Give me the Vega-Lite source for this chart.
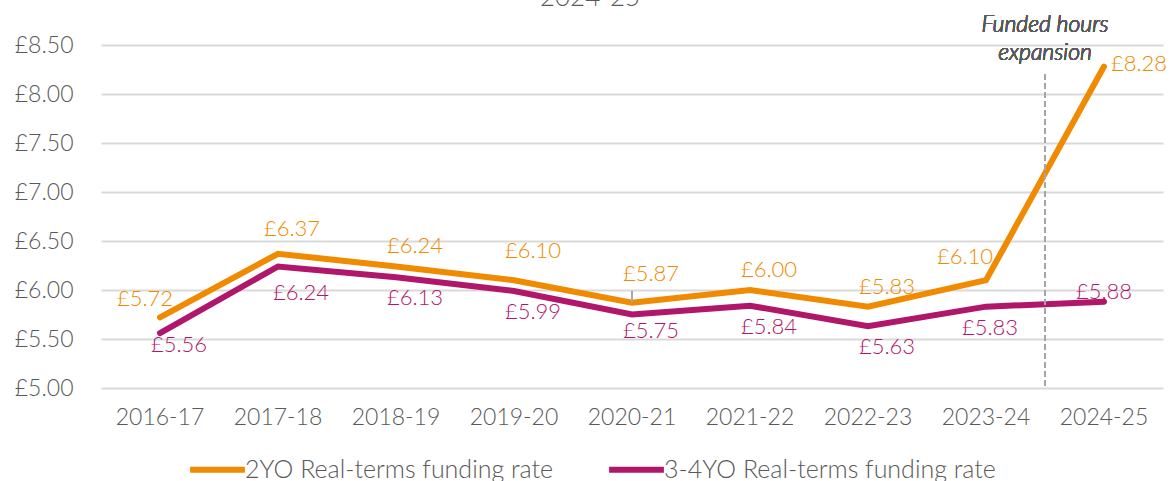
{
  "$schema": "https://vega.github.io/schema/vega-lite/v6.json",
  "width": 1062,
  "height": 343,
  "autosize": {"type": "none"},
  "padding": {"left": 101, "top": 45, "right": 10, "bottom": 93},
  "background": "white",
  "title": {"text": "2024-25", "fontSize": 26, "color": "#595959", "font": "Lato", "fontWeight": 300, "anchor": "middle", "dx": -42, "offset": 3},
  "data": {"values": [
    {"year": "2016-17", "series": "2YO Real-terms funding rate", "value": 5.72},
    {"year": "2017-18", "series": "2YO Real-terms funding rate", "value": 6.37},
    {"year": "2018-19", "series": "2YO Real-terms funding rate", "value": 6.24},
    {"year": "2019-20", "series": "2YO Real-terms funding rate", "value": 6.10},
    {"year": "2020-21", "series": "2YO Real-terms funding rate", "value": 5.87},
    {"year": "2021-22", "series": "2YO Real-terms funding rate", "value": 6.00},
    {"year": "2022-23", "series": "2YO Real-terms funding rate", "value": 5.83},
    {"year": "2023-24", "series": "2YO Real-terms funding rate", "value": 6.10},
    {"year": "2024-25", "series": "2YO Real-terms funding rate", "value": 8.28},
    {"year": "2016-17", "series": "3-4YO Real-terms funding rate", "value": 5.56},
    {"year": "2017-18", "series": "3-4YO Real-terms funding rate", "value": 6.24},
    {"year": "2018-19", "series": "3-4YO Real-terms funding rate", "value": 6.13},
    {"year": "2019-20", "series": "3-4YO Real-terms funding rate", "value": 5.99},
    {"year": "2020-21", "series": "3-4YO Real-terms funding rate", "value": 5.75},
    {"year": "2021-22", "series": "3-4YO Real-terms funding rate", "value": 5.84},
    {"year": "2022-23", "series": "3-4YO Real-terms funding rate", "value": 5.63},
    {"year": "2023-24", "series": "3-4YO Real-terms funding rate", "value": 5.83},
    {"year": "2024-25", "series": "3-4YO Real-terms funding rate", "value": 5.88}
  ]},
  "transform": [{"calculate": "'£' + format(datum.value, '.2f')", "as": "label"}],
  "layer": [
    {
      "mark": {"type": "line", "strokeWidth": 6, "strokeCap": "round", "strokeJoin": "miter"},
      "encoding": {
        "x": {"field": "year", "type": "nominal", "sort": null,
              "scale": {"type": "band", "paddingInner": 0, "paddingOuter": 0},
              "axis": {"title": null, "labelAngle": 0, "ticks": false, "domain": false, "labelPadding": 18, "labelFontSize": 23, "labelColor": "#595959", "labelFont": "Lato", "labelFontWeight": 300, "grid": false, "bandPosition": 0.5}},
        "y": {"field": "value", "type": "quantitative",
              "scale": {"domain": [5, 8.5], "zero": false, "nice": false},
              "axis": {"title": null, "grid": true, "values": [5, 5.5, 6, 6.5, 7, 7.5, 8, 8.5], "labelExpr": "'£' + format(datum.value, '.2f')", "ticks": false, "domain": false, "labelPadding": 28, "labelFontSize": 23, "labelColor": "#595959", "labelFont": "Lato", "labelFontWeight": 300, "gridColor": "#d9d9d9", "gridWidth": 2}},
        "color": {"field": "series", "type": "nominal",
                  "scale": {"domain": ["2YO Real-terms funding rate", "3-4YO Real-terms funding rate"], "range": ["#F08A00", "#B0166A"]},
                  "legend": {"title": null, "orient": "none", "direction": "horizontal", "legendX": 86, "legendY": 394, "symbolType": "stroke", "symbolStrokeWidth": 6, "symbolSize": 3000, "labelFontSize": 25, "labelColor": "#595959", "labelFont": "Lato", "labelFontWeight": 300, "labelLimit": 0, "labelOffset": -3, "columnPadding": 43, "symbolOpacity": 1}}
      }
    },
    {
      "mark": {"type": "rule", "color": "#a6a6a6", "strokeWidth": 1.5, "strokeDash": [5, 4]},
      "encoding": {
        "x": {"datum": "2024-25", "type": "nominal", "bandPosition": 0},
        "y": {"datum": 8.2, "type": "quantitative"},
        "y2": {"datum": 5.0}
      }
    },
    {
      "mark": {"type": "text", "text": ["Funded hours", "expansion"], "baseline": "bottom", "dy": -8, "lineHeight": 28, "fontStyle": "italic", "fontWeight": 300, "fontSize": 23, "color": "#595959", "font": "Lato"},
      "encoding": {
        "x": {"datum": "2024-25", "type": "nominal", "bandPosition": 0},
        "y": {"datum": 8.5, "type": "quantitative"}
      }
    },
    {
      "transform": [{"filter": "datum.series == '2YO Real-terms funding rate' && datum.year == '2020-21'"}],
      "mark": {"type": "rule", "color": "#a6a6a6", "strokeWidth": 2},
      "encoding": {
        "x": {"field": "year", "type": "nominal"},
        "x2": {"field": "year"},
        "x2Offset": {"value": 14},
        "y": {"field": "value", "type": "quantitative"},
        "y2": {"datum": 5.99}
      }
    },
    {
      "transform": [{"filter": "datum.series == '2YO Real-terms funding rate' && datum.year == '2016-17'"}],
      "mark": {"type": "text", "dx": -15, "dy": -18, "fontSize": 22, "fontWeight": 300, "font": "Lato"},
      "encoding": {"x": {"field": "year", "type": "nominal"}, "y": {"field": "value", "type": "quantitative"}, "text": {"field": "label"}, "color": {"field": "series", "type": "nominal", "legend": null}}
    },
    {
      "transform": [{"filter": "datum.series == '2YO Real-terms funding rate' && datum.year == '2017-18'"}],
      "mark": {"type": "text", "dx": 14, "dy": -25, "fontSize": 22, "fontWeight": 300, "font": "Lato"},
      "encoding": {"x": {"field": "year", "type": "nominal"}, "y": {"field": "value", "type": "quantitative"}, "text": {"field": "label"}, "color": {"field": "series", "type": "nominal", "legend": null}}
    },
    {
      "transform": [{"filter": "datum.series == '2YO Real-terms funding rate' && indexof(['2018-19', '2021-22', '2022-23'], datum.year) >= 0"}],
      "mark": {"type": "text", "dx": 19, "dy": -20, "fontSize": 22, "fontWeight": 300, "font": "Lato"},
      "encoding": {"x": {"field": "year", "type": "nominal"}, "y": {"field": "value", "type": "quantitative"}, "text": {"field": "label"}, "color": {"field": "series", "type": "nominal", "legend": null}}
    },
    {
      "transform": [{"filter": "datum.series == '2YO Real-terms funding rate' && indexof(['2019-20', '2020-21'], datum.year) >= 0"}],
      "mark": {"type": "text", "dx": 19, "dy": -29, "fontSize": 22, "fontWeight": 300, "font": "Lato"},
      "encoding": {"x": {"field": "year", "type": "nominal"}, "y": {"field": "value", "type": "quantitative"}, "text": {"field": "label"}, "color": {"field": "series", "type": "nominal", "legend": null}}
    },
    {
      "transform": [{"filter": "datum.series == '2YO Real-terms funding rate' && datum.year == '2023-24'"}],
      "mark": {"type": "text", "dx": -21, "dy": -23, "fontSize": 22, "fontWeight": 300, "font": "Lato"},
      "encoding": {"x": {"field": "year", "type": "nominal"}, "y": {"field": "value", "type": "quantitative"}, "text": {"field": "label"}, "color": {"field": "series", "type": "nominal", "legend": null}}
    },
    {
      "transform": [{"filter": "datum.series == '2YO Real-terms funding rate' && datum.year == '2024-25'"}],
      "mark": {"type": "text", "dx": 35, "dy": -3, "fontSize": 22, "fontWeight": 300, "font": "Lato"},
      "encoding": {"x": {"field": "year", "type": "nominal"}, "y": {"field": "value", "type": "quantitative"}, "text": {"field": "label"}, "color": {"field": "series", "type": "nominal", "legend": null}}
    },
    {
      "transform": [{"filter": "datum.series == '3-4YO Real-terms funding rate' && datum.year == '2016-17'"}],
      "mark": {"type": "text", "dx": 19, "dy": 12, "fontSize": 22, "fontWeight": 300, "font": "Lato"},
      "encoding": {"x": {"field": "year", "type": "nominal"}, "y": {"field": "value", "type": "quantitative"}, "text": {"field": "label"}, "color": {"field": "series", "type": "nominal", "legend": null}}
    },
    {
      "transform": [{"filter": "datum.series == '3-4YO Real-terms funding rate' && datum.year == '2017-18'"}],
      "mark": {"type": "text", "dx": 23, "dy": 27, "fontSize": 22, "fontWeight": 300, "font": "Lato"},
      "encoding": {"x": {"field": "year", "type": "nominal"}, "y": {"field": "value", "type": "quantitative"}, "text": {"field": "label"}, "color": {"field": "series", "type": "nominal", "legend": null}}
    },
    {
      "transform": [{"filter": "datum.series == '3-4YO Real-terms funding rate' && indexof(['2018-19', '2019-20', '2021-22', '2022-23'], datum.year) >= 0"}],
      "mark": {"type": "text", "dx": 19, "dy": 21, "fontSize": 22, "fontWeight": 300, "font": "Lato"},
      "encoding": {"x": {"field": "year", "type": "nominal"}, "y": {"field": "value", "type": "quantitative"}, "text": {"field": "label"}, "color": {"field": "series", "type": "nominal", "legend": null}}
    },
    {
      "transform": [{"filter": "datum.series == '3-4YO Real-terms funding rate' && datum.year == '2020-21'"}],
      "mark": {"type": "text", "dx": 19, "dy": 16, "fontSize": 22, "fontWeight": 300, "font": "Lato"},
      "encoding": {"x": {"field": "year", "type": "nominal"}, "y": {"field": "value", "type": "quantitative"}, "text": {"field": "label"}, "color": {"field": "series", "type": "nominal", "legend": null}}
    },
    {
      "transform": [{"filter": "datum.series == '3-4YO Real-terms funding rate' && datum.year == '2023-24'"}],
      "mark": {"type": "text", "dx": 4, "dy": 21, "fontSize": 22, "fontWeight": 300, "font": "Lato"},
      "encoding": {"x": {"field": "year", "type": "nominal"}, "y": {"field": "value", "type": "quantitative"}, "text": {"field": "label"}, "color": {"field": "series", "type": "nominal", "legend": null}}
    },
    {
      "transform": [{"filter": "datum.series == '3-4YO Real-terms funding rate' && datum.year == '2024-25'"}],
      "mark": {"type": "text", "dx": 0, "dy": -10, "fontSize": 22, "fontWeight": 300, "font": "Lato"},
      "encoding": {"x": {"field": "year", "type": "nominal"}, "y": {"field": "value", "type": "quantitative"}, "text": {"field": "label"}, "color": {"field": "series", "type": "nominal", "legend": null}}
    }
  ],
  "config": {"view": {"stroke": null}, "font": "Lato"}
}
